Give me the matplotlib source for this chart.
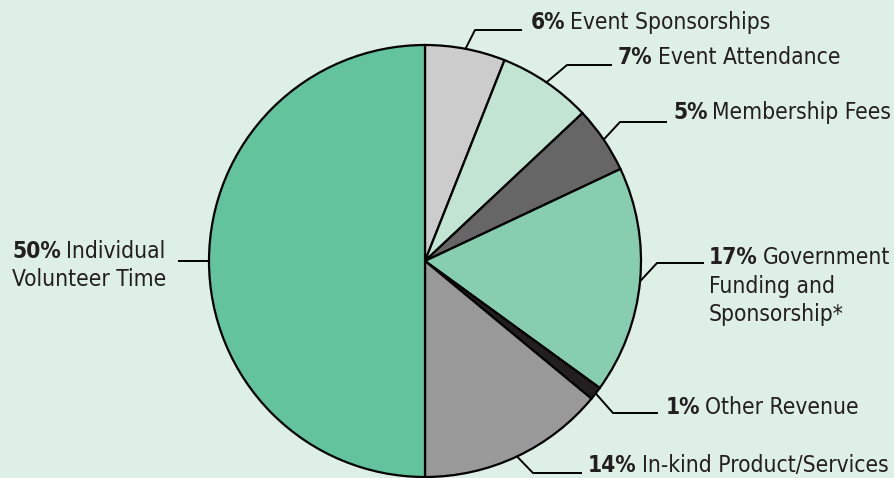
import matplotlib
matplotlib.use("Agg")
import matplotlib.pyplot as plt
import numpy as np

# ---- data ----
categories = ["Event Sponsorships", "Event Attendance", "Membership Fees",
              "Government\nFunding and\nSponsorship*", "Other Revenue",
              "In-kind Product/Services", "Individual\nVolunteer Time"]
values = [6, 7, 5, 17, 1, 14, 50]
pct_labels = ["6%", "7%", "5%", "17%", "1%", "14%", "50%"]
colors = ["#cccccc", "#c2e5d3", "#666666", "#87ceb0", "#231f20", "#999999", "#62c39c"]

W, H = 895, 478
BG = "#deefe5"
TXT = "#231f20"

fig = plt.figure(figsize=(W / 100, H / 100), dpi=100, facecolor=BG)
ax = fig.add_axes([0, 0, 1, 1])
ax.set_xlim(0, W)
ax.set_ylim(0, H)
ax.set_aspect("equal")
ax.axis("off")
ax.set_facecolor(BG)

cx, cy_px, R = 425, 261, 216
wedges, _ = ax.pie(values, colors=colors, startangle=90, counterclock=False,
                   center=(cx, H - cy_px), radius=R,
                   wedgeprops=dict(edgecolor="black", linewidth=1.6))
ax.set_xlim(0, W)
ax.set_ylim(0, H)

# layout: elbow points (pixel from top), line end x, text start x, text center y
elbows = [(475, 30), (567, 65), (620, 122), (657, 263), (613, 413), (533, 473), None]
line_end = [522, 612, 667, 704, 658, 582, 178]
text_x = [531, 618, 673, 709, 666, 588, 12]
text_y = [22, 57, 112, 257, 408, 466, 251]
line_gap = 29

fontkw = dict(family="DejaVu Sans", fontstretch="condensed", fontsize=16.3, color=TXT)

fig.canvas.draw()
renderer = fig.canvas.get_renderer()

for i, w in enumerate(wedges):
    ang = np.deg2rad((w.theta1 + w.theta2) / 2)
    ax_pt = (cx + R * np.cos(ang), (H - cy_px) + R * np.sin(ang))
    if elbows[i] is not None:
        ex, ey = elbows[i]
        xs = [ax_pt[0], ex, line_end[i]]
        ys = [ax_pt[1], H - ey, H - ey]
    else:
        xs = [ax_pt[0], line_end[i]]
        ys = [ax_pt[1], ax_pt[1]]
    ax.plot(xs, ys, color="black", lw=1.4, solid_capstyle="butt", zorder=3)

    lines = categories[i].split("\n")
    tb = ax.text(text_x[i], H - text_y[i], pct_labels[i], fontweight="bold",
                 ha="left", va="center", **fontkw)
    bb = tb.get_window_extent(renderer=renderer)
    x0 = bb.x1 + 5
    ax.text(x0, H - text_y[i], lines[0], ha="left", va="center", **fontkw)
    for k, ln in enumerate(lines[1:], start=1):
        ax.text(text_x[i], H - text_y[i] - k * line_gap, ln, ha="left", va="center", **fontkw)

fig.savefig("out.png", dpi=100, facecolor=BG)
